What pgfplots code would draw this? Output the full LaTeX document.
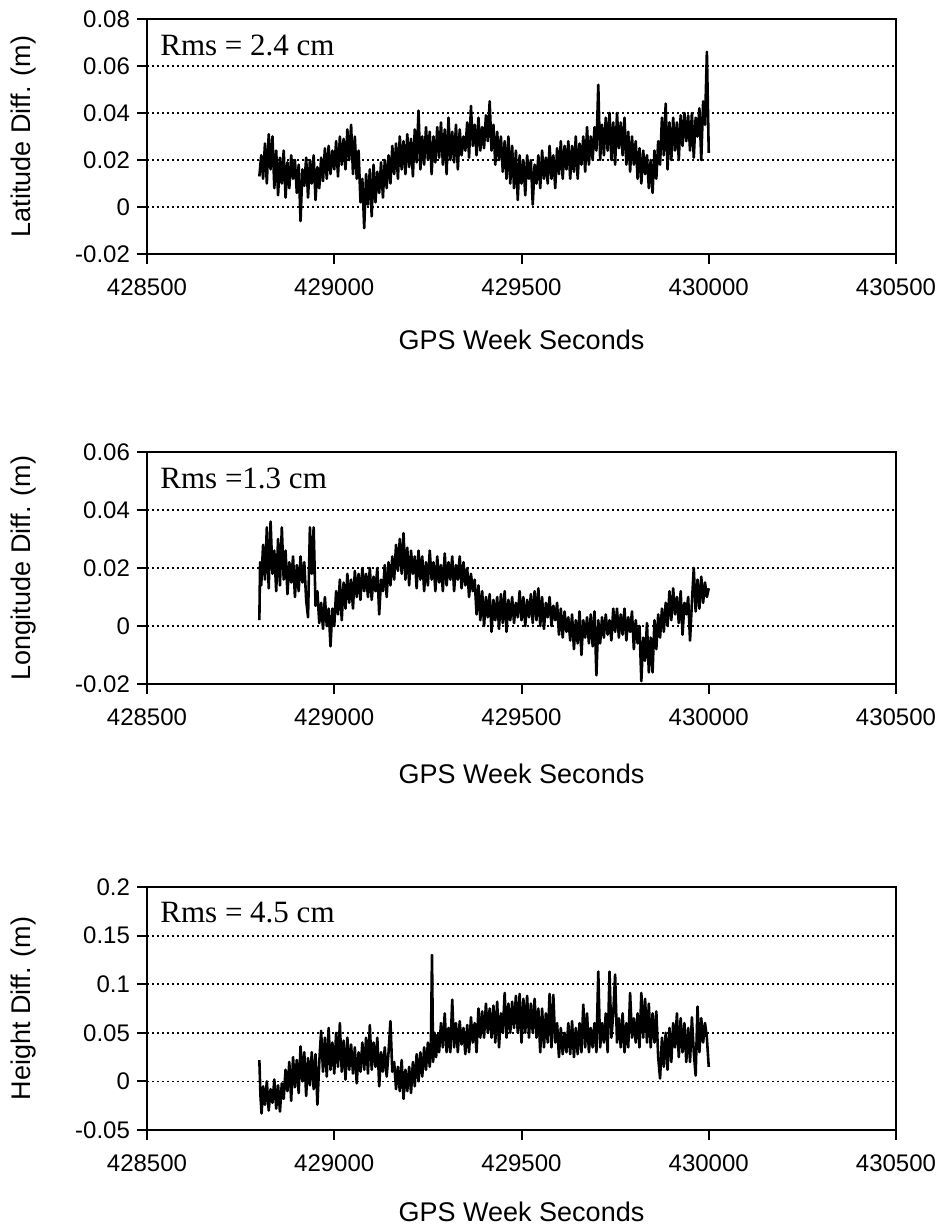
\documentclass[border=0pt]{standalone}
\usepackage{fontspec}
\setmainfont{Liberation Sans}
\newfontfamily\rmsfont{Liberation Serif}
\usepackage{pgfplots}
\pgfplotsset{compat=1.18}

\pgfplotsset{
  gps/.style={
    scale only axis, width=374.5pt,
    xmin=428500, xmax=430500,
    scaled x ticks=false, scaled y ticks=false,
    xtick={428500,429000,429500,430000,430500},
    xticklabels={428500,429000,429500,430000,430500},
    tick align=outside, xtick pos=left, ytick pos=left, major tick length=5pt,
    minor tick num=0,
    tick style={black, line width=1pt},
    axis line style={black, line width=1.3pt},
    ymajorgrids, major grid style={black, line width=0.9pt, dash pattern=on 0.9pt off 1.6pt},
    ticklabel style={font=\fontsize{12}{14}\selectfont},
    xticklabel style={yshift=-4pt},
    xlabel={GPS Week Seconds},
    every axis x label/.style={at={(axis description cs:0.5,0)}, anchor=center, yshift=-43pt, font=\fontsize{13.5}{16}\selectfont},
    every axis y label/.style={at={(axis description cs:0,0.5)}, anchor=center, xshift=-61.5pt, rotate=90, font=\fontsize{13.5}{16}\selectfont},
  },
  data/.style={black, line width=1.3pt, mark=none, line join=round},
}
\tikzset{rms/.style={anchor=west, inner sep=0pt, xshift=6.5pt, yshift=-13pt, font=\rmsfont\fontsize{15.5}{18}\selectfont}}

\begin{document}
\begin{tikzpicture}
\useasboundingbox (0,0) rectangle (471pt,-613pt);

% ---------------- Latitude ----------------
\begin{axis}[gps, at={(73.5pt,-9.5pt)}, anchor=north west, height=117.5pt,
  ymin=-0.02, ymax=0.08,
  ytick={-0.02,0,0.02,0.04,0.06,0.08},
  yticklabels={-0.02,0,0.02,0.04,0.06,0.08},
  ylabel={Latitude Diff. (m)}]
\addplot[data] coordinates {
(428800,0.013) (428805,0.022) (428810,0.012) (428815,0.027) (428820,0.010) (428825,0.031) (428830,0.016) (428835,0.030) (428840,0.008) (428845,0.024)
(428850,0.005) (428855,0.021) (428860,0.010) (428865,0.024) (428870,0.004) (428875,0.019) (428880,0.008) (428885,0.022) (428890,0.012) (428895,0.020)
(428900,0.006) (428905,0.018) (428910,-0.006) (428915,0.016) (428920,0.009) (428925,0.021) (428930,0.004) (428935,0.020) (428940,0.010) (428945,0.022)
(428950,0.003) (428955,0.017) (428960,0.008) (428965,0.021) (428970,0.011) (428975,0.025) (428980,0.012) (428985,0.026) (428990,0.014) (428995,0.024)
(429000,0.016) (429005,0.028) (429010,0.013) (429015,0.030) (429020,0.018) (429025,0.029) (429030,0.016) (429035,0.033) (429040,0.020) (429045,0.035)
(429050,0.014) (429055,0.030) (429060,0.012) (429065,0.024) (429070,0.002) (429075,0.012) (429080,-0.009) (429085,0.014) (429090,0.001) (429095,0.016)
(429100,-0.004) (429105,0.018) (429110,0.002) (429115,0.015) (429120,0.006) (429125,0.019) (429130,0.004) (429135,0.020) (429140,0.008) (429145,0.022)
(429150,0.010) (429155,0.026) (429160,0.014) (429165,0.027) (429170,0.012) (429175,0.030) (429180,0.016) (429185,0.028) (429190,0.014) (429195,0.031)
(429200,0.017) (429205,0.029) (429210,0.013) (429215,0.033) (429220,0.019) (429225,0.041) (429230,0.016) (429235,0.030) (429240,0.018) (429245,0.034)
(429250,0.020) (429255,0.032) (429260,0.014) (429265,0.030) (429270,0.019) (429275,0.034) (429280,0.021) (429285,0.036) (429290,0.018) (429295,0.033)
(429300,0.014) (429305,0.038) (429310,0.020) (429315,0.032) (429320,0.019) (429325,0.035) (429330,0.016) (429335,0.033) (429340,0.022) (429345,0.030)
(429350,0.024) (429355,0.036) (429360,0.021) (429365,0.043) (429370,0.026) (429375,0.035) (429380,0.022) (429385,0.038) (429390,0.024) (429395,0.034)
(429400,0.025) (429405,0.039) (429410,0.028) (429415,0.045) (429420,0.024) (429425,0.035) (429430,0.018) (429435,0.032) (429440,0.020) (429445,0.030)
(429450,0.015) (429455,0.028) (429460,0.012) (429465,0.030) (429470,0.010) (429475,0.026) (429480,0.008) (429485,0.024) (429490,0.003) (429495,0.022)
(429500,0.010) (429505,0.020) (429510,0.005) (429515,0.022) (429520,0.012) (429525,0.020) (429530,0.001) (429535,0.018) (429540,0.010) (429545,0.022)
(429550,0.008) (429555,0.024) (429560,0.012) (429565,0.021) (429570,0.010) (429575,0.026) (429580,0.012) (429585,0.022) (429590,0.008) (429595,0.025)
(429600,0.014) (429605,0.028) (429610,0.012) (429615,0.026) (429620,0.016) (429625,0.028) (429630,0.012) (429635,0.026) (429640,0.015) (429645,0.030)
(429650,0.012) (429655,0.027) (429660,0.018) (429665,0.030) (429670,0.015) (429675,0.034) (429680,0.018) (429685,0.030) (429690,0.020) (429695,0.034)
(429700,0.024) (429705,0.052) (429710,0.020) (429715,0.035) (429720,0.022) (429725,0.038) (429730,0.024) (429735,0.040) (429740,0.020) (429745,0.036)
(429750,0.018) (429755,0.040) (429760,0.025) (429765,0.036) (429770,0.022) (429775,0.038) (429780,0.018) (429785,0.032) (429790,0.015) (429795,0.030)
(429800,0.018) (429805,0.028) (429810,0.012) (429815,0.025) (429820,0.010) (429825,0.024) (429830,0.014) (429835,0.022) (429840,0.008) (429845,0.020)
(429850,0.006) (429855,0.024) (429860,0.012) (429865,0.028) (429870,0.018) (429875,0.038) (429880,0.022) (429885,0.044) (429890,0.016) (429895,0.036)
(429900,0.020) (429905,0.038) (429910,0.024) (429915,0.036) (429920,0.020) (429925,0.039) (429930,0.026) (429935,0.040) (429940,0.028) (429945,0.039)
(429950,0.024) (429955,0.040) (429960,0.021) (429965,0.038) (429970,0.030) (429975,0.042) (429980,0.020) (429985,0.045) (429990,0.035) (429995,0.066)
(430000,0.023)
};
\node[rms] at (rel axis cs:0,1) {Rms = 2.4 cm};
\end{axis}

% ---------------- Longitude ----------------
\begin{axis}[gps, at={(73.5pt,-226pt)}, anchor=north west, height=116pt,
  ymin=-0.02, ymax=0.06,
  ytick={-0.02,0,0.02,0.04,0.06},
  yticklabels={-0.02,0,0.02,0.04,0.06},
  ylabel={Longitude Diff. (m)},
  every axis x label/.append style={yshift=-2pt}]
\addplot[data] coordinates {
(428800,0.002) (428802,0.022) (428805,0.014) (428810,0.028) (428815,0.016) (428820,0.034) (428825,0.013) (428830,0.036) (428835,0.018) (428840,0.026) (428845,0.012)
(428850,0.030) (428855,0.014) (428860,0.034) (428865,0.016) (428870,0.026) (428875,0.011) (428880,0.022) (428885,0.015) (428890,0.024) (428895,0.010)
(428900,0.021) (428905,0.012) (428910,0.024) (428915,0.015) (428920,0.022) (428925,0.009) (428930,0.003) (428935,0.034) (428940,0.018) (428945,0.034)
(428950,0.007) (428955,0.012) (428960,0.001) (428965,0.008) (428970,-0.001) (428975,0.010) (428980,0.000) (428985,0.006) (428990,-0.007) (428995,0.006)
(429000,0.000) (429005,0.012) (429010,0.004) (429015,0.016) (429020,0.002) (429025,0.015) (429030,0.006) (429035,0.018) (429040,0.008) (429045,0.016)
(429050,0.006) (429055,0.019) (429060,0.010) (429065,0.018) (429070,0.009) (429075,0.020) (429080,0.012) (429085,0.018) (429090,0.010) (429095,0.020)
(429100,0.009) (429105,0.017) (429110,0.012) (429115,0.020) (429120,0.004) (429125,0.016) (429130,0.012) (429135,0.021) (429140,0.010) (429145,0.022)
(429150,0.014) (429155,0.024) (429160,0.016) (429165,0.028) (429170,0.019) (429175,0.030) (429180,0.018) (429185,0.032) (429190,0.016) (429195,0.027)
(429200,0.014) (429205,0.026) (429210,0.018) (429215,0.024) (429220,0.013) (429225,0.026) (429230,0.016) (429235,0.024) (429240,0.012) (429245,0.022)
(429250,0.014) (429255,0.026) (429260,0.016) (429265,0.022) (429270,0.012) (429275,0.024) (429280,0.015) (429285,0.021) (429290,0.012) (429295,0.025)
(429300,0.014) (429305,0.022) (429310,0.016) (429315,0.024) (429320,0.012) (429325,0.021) (429330,0.016) (429335,0.024) (429340,0.013) (429345,0.022)
(429350,0.014) (429355,0.020) (429360,0.010) (429365,0.018) (429370,0.012) (429375,0.016) (429380,0.004) (429385,0.014) (429390,0.002) (429395,0.012)
(429400,0.000) (429405,0.010) (429410,0.003) (429415,0.011) (429420,-0.002) (429425,0.009) (429430,0.002) (429435,0.010) (429440,-0.001) (429445,0.011)
(429450,0.001) (429455,0.012) (429460,-0.002) (429465,0.009) (429470,0.002) (429475,0.010) (429480,0.001) (429485,0.008) (429490,0.003) (429495,0.012)
(429500,0.002) (429505,0.010) (429510,0.000) (429515,0.009) (429520,0.003) (429525,0.011) (429530,0.001) (429535,0.012) (429540,0.002) (429545,0.013)
(429550,0.000) (429555,0.010) (429560,-0.001) (429565,0.008) (429570,0.003) (429575,0.010) (429580,0.000) (429585,0.007) (429590,0.002) (429595,0.008)
(429600,-0.003) (429605,0.006) (429610,-0.004) (429615,0.005) (429620,-0.002) (429625,0.003) (429630,-0.005) (429635,0.004) (429640,-0.008) (429645,0.002)
(429650,-0.006) (429655,0.005) (429660,-0.010) (429665,0.002) (429670,-0.004) (429675,0.003) (429680,-0.006) (429685,0.004) (429690,-0.007) (429695,0.005)
(429700,-0.017) (429705,0.002) (429710,-0.006) (429715,0.003) (429720,-0.004) (429725,0.004) (429730,-0.003) (429735,0.002) (429740,-0.005) (429745,0.006)
(429750,-0.002) (429755,0.006) (429760,-0.004) (429765,0.004) (429770,-0.003) (429775,0.006) (429780,-0.005) (429785,0.003) (429790,-0.002) (429795,0.005)
(429800,-0.008) (429805,0.002) (429810,-0.006) (429815,0.000) (429820,-0.019) (429825,-0.004) (429830,-0.012) (429835,0.001) (429840,-0.016) (429845,-0.004)
(429850,-0.016) (429855,0.002) (429860,-0.008) (429865,0.004) (429870,-0.004) (429875,0.006) (429880,-0.002) (429885,0.008) (429890,0.000) (429895,0.012)
(429900,0.002) (429905,0.013) (429910,0.004) (429915,0.010) (429920,0.001) (429925,0.012) (429930,-0.003) (429935,0.008) (429940,0.004) (429945,0.010)
(429950,-0.005) (429955,0.008) (429960,0.020) (429965,0.005) (429970,0.016) (429975,0.006) (429980,0.017) (429985,0.008) (429990,0.015) (429995,0.010)
(430000,0.013)
};
\node[rms] at (rel axis cs:0,1) {Rms =1.3 cm};
\end{axis}

% ---------------- Height ----------------
\begin{axis}[gps, at={(73.5pt,-443.5pt)}, anchor=north west, height=121.5pt,
  ymin=-0.05, ymax=0.2,
  ytick={-0.05,0,0.05,0.1,0.15,0.2},
  yticklabels={-0.05,0,0.05,0.1,0.15,0.2},
  ylabel={Height Diff. (m)},
  every axis x label/.append style={yshift=2pt}]
\addplot[data] coordinates {
(428800,0.022) (428803,-0.015) (428806,-0.033) (428810,-0.005) (428815,-0.024) (428820,0.000) (428825,-0.030) (428830,-0.008) (428835,-0.022) (428840,0.002) (428845,-0.028)
(428850,-0.004) (428855,-0.031) (428860,-0.002) (428865,-0.018) (428870,0.012) (428875,-0.010) (428880,0.020) (428885,-0.020) (428890,0.025) (428895,-0.006)
(428900,0.022) (428905,-0.012) (428910,0.036) (428915,0.000) (428920,0.030) (428925,-0.015) (428930,0.024) (428935,-0.004) (428940,0.030) (428945,-0.008)
(428950,0.028) (428955,-0.024) (428960,0.020) (428965,0.052) (428970,0.010) (428975,0.045) (428980,0.005) (428985,0.055) (428990,0.012) (428995,0.040)
(429000,0.008) (429005,0.050) (429010,0.015) (429015,0.060) (429020,0.010) (429025,0.042) (429030,0.002) (429035,0.045) (429040,0.012) (429045,0.038)
(429050,0.008) (429055,0.035) (429060,-0.002) (429065,0.030) (429070,0.010) (429075,0.040) (429080,0.012) (429085,0.045) (429090,0.008) (429095,0.058)
(429100,0.012) (429105,0.040) (429110,0.015) (429115,0.045) (429120,-0.005) (429125,0.030) (429130,0.010) (429135,0.035) (429140,0.005) (429145,0.030)
(429150,0.062) (429155,0.010) (429160,0.020) (429165,-0.008) (429170,0.015) (429175,-0.010) (429180,0.022) (429185,-0.018) (429190,0.012) (429195,-0.010)
(429200,0.015) (429205,-0.012) (429210,0.020) (429215,-0.005) (429220,0.028) (429225,0.000) (429230,0.030) (429235,0.005) (429240,0.035) (429245,0.012)
(429250,0.040) (429255,0.015) (429258,0.035) (429261,0.130) (429264,0.020) (429268,0.050) (429272,0.025) (429276,0.048) (429280,0.030) (429285,0.060) (429290,0.035) (429295,0.070)
(429300,0.030) (429305,0.055) (429310,0.030) (429315,0.084) (429320,0.035) (429325,0.060) (429330,0.030) (429335,0.062) (429340,0.038) (429345,0.055)
(429350,0.028) (429355,0.058) (429360,0.030) (429365,0.066) (429370,0.040) (429375,0.060) (429380,0.030) (429385,0.075) (429390,0.045) (429395,0.072)
(429400,0.045) (429405,0.080) (429410,0.050) (429415,0.075) (429420,0.045) (429425,0.078) (429430,0.040) (429435,0.082) (429440,0.035) (429445,0.070)
(429450,0.050) (429455,0.091) (429460,0.045) (429465,0.080) (429470,0.050) (429475,0.082) (429480,0.055) (429485,0.088) (429490,0.050) (429495,0.090)
(429500,0.040) (429505,0.085) (429510,0.050) (429515,0.088) (429520,0.045) (429525,0.080) (429530,0.050) (429535,0.085) (429540,0.045) (429545,0.075)
(429550,0.030) (429555,0.075) (429560,0.035) (429565,0.070) (429570,0.040) (429575,0.090) (429580,0.035) (429585,0.089) (429590,0.040) (429595,0.060)
(429600,0.025) (429605,0.055) (429610,0.028) (429615,0.050) (429620,0.030) (429625,0.060) (429630,0.028) (429635,0.062) (429640,0.025) (429645,0.055)
(429650,0.028) (429655,0.060) (429660,0.030) (429665,0.079) (429670,0.035) (429675,0.070) (429680,0.030) (429685,0.055) (429690,0.035) (429695,0.060)
(429700,0.030) (429705,0.113) (429710,0.035) (429715,0.060) (429720,0.040) (429725,0.070) (429730,0.030) (429735,0.113) (429740,0.045) (429745,0.070)
(429750,0.110) (429755,0.040) (429760,0.065) (429765,0.035) (429770,0.070) (429775,0.030) (429780,0.060) (429785,0.035) (429790,0.091) (429795,0.045)
(429800,0.065) (429805,0.040) (429810,0.070) (429815,0.035) (429820,0.091) (429825,0.045) (429830,0.085) (429835,0.040) (429840,0.080) (429845,0.035)
(429850,0.070) (429855,0.040) (429860,0.072) (429865,0.025) (429870,0.003) (429875,0.045) (429880,0.015) (429885,0.050) (429890,0.012) (429895,0.055)
(429900,0.020) (429905,0.060) (429910,0.035) (429915,0.070) (429920,0.025) (429925,0.065) (429930,0.030) (429935,0.060) (429940,0.020) (429945,0.055)
(429950,0.020) (429955,0.066) (429960,0.030) (429965,0.006) (429970,0.077) (429975,0.030) (429980,0.065) (429985,0.040) (429990,0.060) (429995,0.045)
(430000,0.015)
};
\node[rms] at (rel axis cs:0,1) {Rms = 4.5 cm};
\end{axis}
\end{tikzpicture}
\end{document}
